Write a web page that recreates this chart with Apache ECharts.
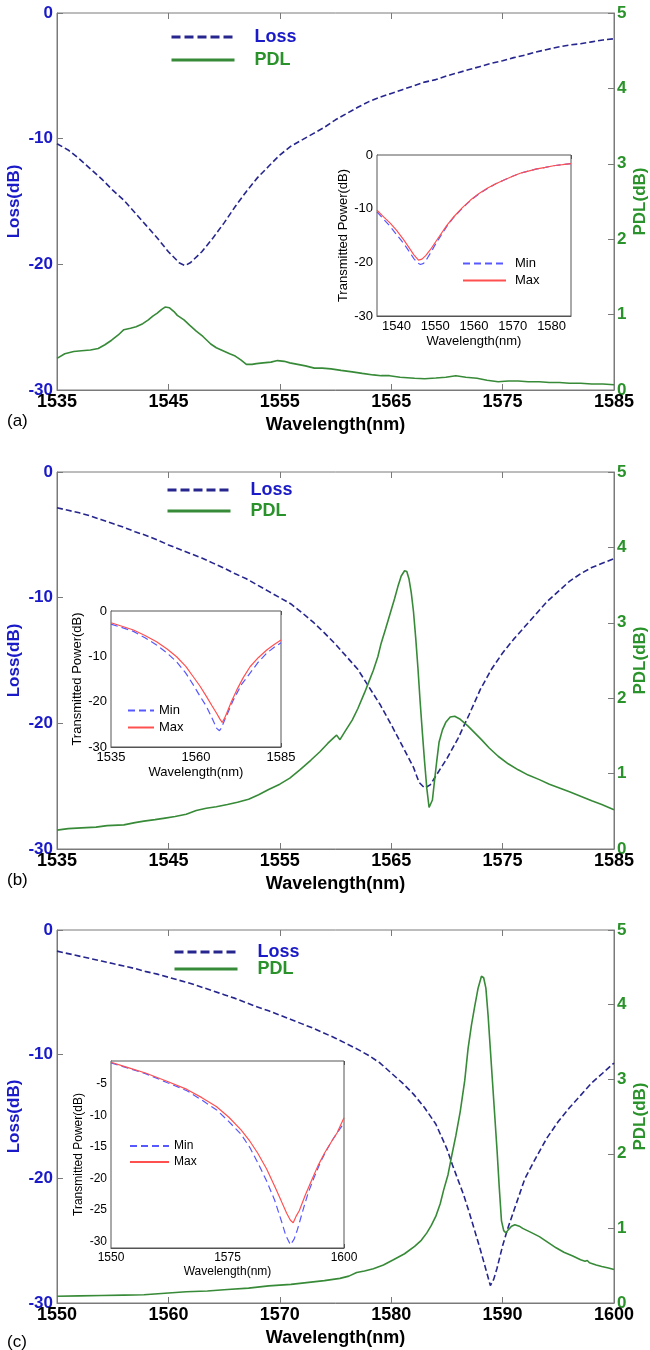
<!DOCTYPE html>
<html><head><meta charset="utf-8">
<script src="https://cdn.jsdelivr.net/npm/echarts@6/dist/echarts.min.js"></script>
<style>html,body{margin:0;padding:0;background:#fff}#c{width:650px;height:1350px}</style>
</head><body><div id="c"></div>
<script>
// ---------------- Panel (a) ----------------
const aLossWl = [1535,1536,1537,1538,1539,1540,1541,1542,1543,1544,1545,1546,1546.5,1547,1548,1549,1550,1551,1552,1553,1554,1555,1556,1557,1558,1559,1560,1561,1562,1563,1564,1565,1566,1567,1568,1569,1570,1571,1572,1573,1574,1575,1576,1577,1578,1579,1580,1581,1582,1583,1584,1585];
const aLossDb = [-10.4,-10.9,-11.6,-12.4,-13.2,-14.1,-14.9,-15.9,-16.9,-17.9,-19.0,-19.9,-20.1,-19.85,-19.0,-17.9,-16.7,-15.4,-14.2,-13.1,-12.2,-11.3,-10.6,-10.1,-9.6,-9.1,-8.5,-8.0,-7.5,-7.05,-6.7,-6.4,-6.1,-5.8,-5.5,-5.3,-5.0,-4.75,-4.5,-4.25,-4.0,-3.8,-3.55,-3.35,-3.1,-2.9,-2.7,-2.55,-2.45,-2.3,-2.15,-2.05];
const aPdlWl = [1535,1535.7,1536.5,1537.2,1538,1538.7,1539.3,1539.9,1540.5,1541,1541.6,1542.1,1542.7,1543.2,1543.6,1544,1544.4,1544.7,1545.1,1545.5,1545.8,1546.4,1546.9,1547.5,1548.1,1548.8,1549.3,1549.9,1550.5,1551,1551.5,1552,1552.5,1552.9,1553.5,1554.2,1554.8,1555.4,1555.9,1556.6,1557.3,1558.1,1558.8,1559.6,1560.5,1561.5,1562.4,1563.4,1564.1,1564.85,1565.8,1567.1,1568,1569,1569.9,1570.8,1571.7,1572.7,1573.6,1574.6,1575.5,1576.4,1577.3,1578.3,1579.2,1580.1,1581,1582,1583,1584,1585];
const aPdlDb = [0.42,0.48,0.51,0.52,0.53,0.55,0.60,0.66,0.73,0.80,0.82,0.84,0.88,0.93,0.98,1.02,1.07,1.10,1.09,1.04,0.99,0.93,0.86,0.78,0.71,0.61,0.56,0.52,0.48,0.45,0.40,0.34,0.34,0.35,0.36,0.37,0.39,0.38,0.36,0.34,0.32,0.29,0.29,0.28,0.26,0.24,0.22,0.20,0.19,0.19,0.17,0.155,0.15,0.16,0.17,0.19,0.17,0.155,0.13,0.11,0.12,0.12,0.11,0.11,0.10,0.10,0.09,0.09,0.08,0.08,0.07];
const aInsMaxWl = [1535,1536.5,1538.4,1540,1541.9,1543.3,1544.5,1545.7,1546.6,1547.6,1548.7,1550,1551.3,1553,1554.8,1557,1559.1,1561.2,1563.4,1565.5,1567.6,1569.8,1571.9,1574,1576.2,1578.4,1580.5,1582.8,1585];
const aInsMaxDb = [-10.3,-11.4,-12.7,-14.0,-15.8,-17.3,-18.6,-19.6,-19.4,-18.7,-17.7,-16.3,-14.9,-13.1,-11.5,-9.8,-8.4,-7.2,-6.2,-5.4,-4.7,-4.0,-3.4,-3.0,-2.6,-2.3,-2.0,-1.8,-1.6];
const aInsMinWl = [1535,1536.5,1538.4,1540,1541.9,1543.3,1544.5,1545.4,1546.2,1547,1548,1549,1550,1551.3,1553,1554.8,1557,1559.1,1561.2,1563.4,1565.5,1567.6,1569.8,1571.9,1574,1576.2,1578.4,1580.5,1582.8,1585];
const aInsMinDb = [-10.6,-11.8,-13.3,-14.8,-16.5,-18.0,-19.3,-20.1,-20.4,-20.2,-19.2,-18.0,-16.7,-15.2,-13.3,-11.6,-9.9,-8.5,-7.3,-6.3,-5.4,-4.7,-4.0,-3.4,-3.0,-2.6,-2.3,-2.0,-1.8,-1.6];

// ---------------- Panel (b) ----------------
const bLossWl = [1535,1536,1537,1538,1539,1540,1541,1542,1543,1544,1545,1546,1547,1548,1549,1550,1551,1552,1553,1554,1555,1556,1557,1558,1559,1560,1561,1562,1563,1564,1565,1566,1567,1567.5,1568,1568.5,1569,1570,1571,1572,1573,1574,1575,1576,1577,1578,1579,1580,1581,1582,1583,1584,1585];
const bLossDb = [-2.85,-3.05,-3.25,-3.5,-3.8,-4.1,-4.4,-4.75,-5.05,-5.4,-5.8,-6.15,-6.5,-6.85,-7.25,-7.65,-8.1,-8.5,-9.0,-9.5,-10.0,-10.5,-11.2,-11.95,-12.8,-13.7,-14.7,-15.7,-17.1,-18.5,-20.1,-21.8,-23.5,-24.7,-25.15,-24.9,-24.2,-22.8,-21.2,-19.3,-17.3,-15.7,-14.4,-13.3,-12.3,-11.3,-10.3,-9.5,-8.7,-8.1,-7.6,-7.25,-6.9];
const bPdlWl = [1535,1536,1537.2,1538.5,1539.5,1541,1542,1542.8,1543.8,1544.7,1545.6,1546.6,1547.5,1548.4,1549.3,1550.3,1551.2,1552.2,1553.1,1554,1555,1555.9,1556.8,1557.8,1558.6,1559.3,1559.8,1560.1,1560.4,1560.9,1561.5,1562,1562.6,1563,1563.4,1563.8,1564.1,1564.5,1564.9,1565.3,1565.6,1565.9,1566.2,1566.4,1566.6,1566.8,1567,1567.2,1567.4,1567.6,1567.8,1568,1568.2,1568.4,1568.55,1568.7,1568.9,1569.1,1569.3,1569.6,1569.9,1570.3,1570.7,1571.2,1571.9,1572.5,1573.1,1573.8,1574.6,1575.5,1576.4,1577.3,1578.3,1579.2,1580.1,1581,1582,1583,1583.9,1585];
const bPdlDb = [0.25,0.27,0.28,0.29,0.31,0.32,0.35,0.37,0.39,0.41,0.43,0.46,0.51,0.54,0.56,0.59,0.62,0.66,0.72,0.79,0.86,0.94,1.05,1.18,1.29,1.40,1.47,1.51,1.45,1.57,1.71,1.86,2.07,2.22,2.37,2.55,2.73,2.92,3.12,3.32,3.48,3.62,3.69,3.68,3.58,3.40,3.15,2.80,2.40,1.95,1.54,1.15,0.80,0.55,0.53,0.65,0.92,1.18,1.42,1.58,1.68,1.75,1.76,1.72,1.63,1.54,1.45,1.34,1.23,1.13,1.05,0.98,0.92,0.86,0.81,0.76,0.70,0.64,0.59,0.52];
const bInsMaxWl = [1535,1538,1541.6,1545,1548.4,1551.5,1554.3,1557,1559.2,1561.2,1563.1,1564.7,1566.1,1567,1567.7,1568.3,1569,1570.4,1572,1573.9,1575.9,1578.3,1580.8,1583,1585];
const bInsMaxDb = [-2.6,-3.3,-4.2,-5.4,-6.8,-8.4,-10.1,-12.2,-14.5,-16.6,-18.9,-20.9,-22.6,-23.8,-24.6,-23.8,-22.6,-20.0,-17.4,-14.7,-12.3,-10.3,-8.6,-7.4,-6.4];
const bInsMinWl = [1535,1538,1541.6,1545,1548.4,1551.5,1554.3,1557,1559.2,1561.2,1563.1,1564.7,1566.1,1566.9,1567.5,1568,1569.5,1571,1573.4,1575.9,1578.3,1580.8,1583,1585];
const bInsMinDb = [-2.9,-3.6,-4.5,-5.9,-7.5,-9.3,-11.2,-13.7,-16.3,-18.8,-21.1,-23.6,-25.9,-26.4,-25.8,-24.8,-22.2,-19.6,-16.2,-13.7,-11.3,-9.3,-8.0,-7.0];

// ---------------- Panel (c) ----------------
const cLossWl = [1550,1551,1552,1553,1554,1555,1556,1557,1558,1559,1560,1561,1562,1563,1564,1565,1566,1567,1568,1569,1570,1571,1572,1573,1574,1575,1576,1577,1578,1579,1580,1581,1582,1583,1584,1585,1585.5,1586,1586.5,1587,1587.5,1588,1588.5,1588.9,1589.2,1589.5,1590,1590.5,1591,1592,1593,1594,1595,1596,1597,1598,1599,1600];
const cLossDb = [-1.7,-1.9,-2.1,-2.3,-2.5,-2.7,-2.9,-3.1,-3.35,-3.55,-3.8,-4.05,-4.3,-4.6,-4.9,-5.2,-5.5,-5.85,-6.2,-6.5,-6.85,-7.2,-7.55,-7.9,-8.3,-8.7,-9.15,-9.6,-10.1,-10.7,-11.5,-12.3,-13.2,-14.3,-15.6,-17.6,-18.9,-20.1,-21.3,-22.7,-24.2,-25.7,-27.3,-28.6,-28.1,-27.2,-25.4,-23.9,-22.6,-20.0,-18.3,-16.7,-15.4,-14.3,-13.3,-12.3,-11.5,-10.7];
const cPdlWl = [1550,1552,1554,1556,1557.8,1559.7,1561.6,1563.5,1565.3,1567.2,1569,1571,1572.8,1574,1575.4,1576.2,1576.9,1577.6,1578.4,1579.3,1580.2,1581.2,1582.1,1582.7,1583.2,1583.6,1584,1584.4,1584.7,1585.1,1585.4,1585.8,1586.2,1586.6,1586.9,1587.2,1587.5,1587.8,1588.1,1588.3,1588.5,1588.7,1588.9,1589.1,1589.3,1589.5,1589.7,1589.9,1590.1,1590.3,1590.5,1590.8,1591.1,1591.5,1591.8,1592.5,1593.3,1594,1594.8,1595.5,1596.3,1597,1597.4,1597.6,1597.8,1598.4,1598.9,1599.5,1600];
const cPdlDb = [0.09,0.095,0.10,0.105,0.11,0.13,0.15,0.16,0.18,0.20,0.23,0.25,0.28,0.30,0.33,0.36,0.41,0.43,0.46,0.51,0.58,0.66,0.76,0.84,0.94,1.04,1.16,1.33,1.51,1.72,1.95,2.24,2.57,2.98,3.41,3.72,3.98,4.22,4.38,4.36,4.22,3.85,3.40,2.95,2.50,2.05,1.55,1.10,0.97,0.94,0.98,1.03,1.05,1.03,1.00,0.95,0.89,0.82,0.74,0.68,0.63,0.58,0.56,0.57,0.54,0.51,0.49,0.47,0.45];
const cInsMaxWl = [1550,1553.5,1557.4,1562,1566.3,1569.5,1572.6,1575.3,1577.9,1579.8,1581.5,1583.4,1585.1,1586.5,1587.7,1588.5,1589.1,1589.7,1590.4,1591.7,1593.1,1594.4,1595.8,1597.2,1598.5,1600];
const cInsMaxDb = [-1.6,-2.4,-3.3,-4.6,-5.9,-7.2,-8.6,-10.3,-12.3,-14.1,-16.0,-18.5,-21.2,-23.5,-25.5,-26.6,-27.0,-26.0,-25.1,-22.6,-20.2,-18.0,-16.0,-14.3,-12.8,-10.4];
const cInsMinWl = [1550,1553.5,1557.4,1562,1566.3,1569.5,1572.6,1575.3,1577.9,1579.8,1581.5,1583.4,1585.1,1586.6,1587.5,1588.5,1589.3,1590,1591.2,1592.3,1593.6,1594.9,1596.2,1597.5,1598.8,1600];
const cInsMinDb = [-1.7,-2.5,-3.4,-4.8,-6.1,-7.6,-9.1,-11.0,-13.0,-15.1,-17.5,-20.4,-23.4,-26.8,-29.0,-30.5,-29.6,-28.1,-25.0,-22.3,-19.8,-17.5,-15.6,-13.9,-12.5,-11.2];

// ---------------- Text ----------------
const panelTags = ['(a)', '(b)', '(c)'];
const xTitle = 'Wavelength(nm)';
const lossTitle = 'Loss(dB)';
const pdlTitle = 'PDL(dB)';
const insetYTitle = 'Transmitted Power(dB)';

// ---------------- Styling ----------------
const FONT = '"Liberation Sans", Arial, sans-serif';
const LOSS_COLOR = '#26268e';
const BLUE_TXT = '#1a1ac8';
const PDL_COLOR = '#378a37';
const GREEN_TXT = '#2a922a';
const MIN_COLOR = '#5858ff';
const MAX_COLOR = '#ff5050';
const AXIS_GRAY = '#7a7a7a';

const grids = [], xAxes = [], yAxes = [], series = [], legends = [];
const pairs = (x, y) => x.map((v, i) => [v, y[i]]);

function addMain(p) {
  const gi = grids.length;
  grids.push({left: 57, width: 557, top: p.top, height: p.height, show: true, outerBoundsMode: 'none',
    containLabel: false, borderColor: AXIS_GRAY, borderWidth: 1, backgroundColor: 'transparent'});
  const xb = xAxes.length;
  xAxes.push({type: 'value', gridIndex: gi, position: 'bottom', min: p.xmin, max: p.xmax, interval: 10,
    axisLine: {show: true, onZero: false, lineStyle: {color: AXIS_GRAY}},
    axisTick: {inside: true, length: 6, lineStyle: {color: AXIS_GRAY}},
    splitLine: {show: false},
    axisLabel: {color: '#000', fontWeight: 'bold', fontSize: 18, fontFamily: FONT, margin: 3, formatter: v => String(v)},
    name: xTitle, nameLocation: 'middle', nameGap: 26,
    nameTextStyle: {color: '#000', fontWeight: 'bold', fontSize: 18, fontFamily: FONT}});
  xAxes.push({type: 'value', gridIndex: gi, position: 'top', min: p.xmin, max: p.xmax, interval: 10,
    axisLine: {show: false}, axisTick: {inside: true, length: 6, lineStyle: {color: AXIS_GRAY}},
    axisLabel: {show: false}, splitLine: {show: false}});
  const yl = yAxes.length;
  yAxes.push({type: 'value', gridIndex: gi, position: 'left', min: -30, max: 0, interval: 10,
    axisLine: {show: true, onZero: false, lineStyle: {color: AXIS_GRAY}},
    axisTick: {inside: true, length: 6, lineStyle: {color: AXIS_GRAY}},
    splitLine: {show: false},
    axisLabel: {color: BLUE_TXT, fontWeight: 'bold', fontSize: 17, fontFamily: FONT, margin: 4},
    name: lossTitle, nameLocation: 'middle', nameRotate: 90, nameGap: 34, nameMoveOverlap: false,
    nameTextStyle: {color: BLUE_TXT, fontWeight: 'bold', fontSize: 17, fontFamily: FONT}});
  yAxes.push({type: 'value', gridIndex: gi, position: 'right', min: 0, max: 5, interval: 1,
    axisLine: {show: true, onZero: false, lineStyle: {color: AXIS_GRAY}},
    axisTick: {inside: true, length: 6, lineStyle: {color: AXIS_GRAY}},
    splitLine: {show: false},
    axisLabel: {color: GREEN_TXT, fontWeight: 'bold', fontSize: 17, fontFamily: FONT, margin: 3},
    name: pdlTitle, nameLocation: 'middle', nameRotate: 90, nameGap: 18, nameMoveOverlap: false,
    nameTextStyle: {color: GREEN_TXT, fontWeight: 'bold', fontSize: 17, fontFamily: FONT}});
  series.push({name: 'Loss', type: 'line', xAxisIndex: xb, yAxisIndex: yl, data: pairs(p.lossWl, p.lossDb),
    symbol: 'none', z: 3, lineStyle: {color: LOSS_COLOR, width: 1.6, type: [6, 3]}, itemStyle: {color: LOSS_COLOR}});
  series.push({name: 'PDL', type: 'line', xAxisIndex: xb, yAxisIndex: yl + 1, data: pairs(p.pdlWl, p.pdlDb),
    symbol: 'none', z: 3, lineStyle: {color: PDL_COLOR, width: 1.6}, itemStyle: {color: PDL_COLOR}});
  legends.push({left: p.legLeft, top: p.legTop, orient: 'vertical', itemWidth: 63, itemHeight: 14,
    itemGap: p.legGap, selectedMode: false, padding: 0, itemStyle: {opacity: 0},
    textStyle: {fontSize: 18, fontWeight: 'bold', fontFamily: FONT, lineHeight: 18, padding: [0, 0, 0, 15]},
    data: [{name: 'Loss', textStyle: {color: BLUE_TXT}, itemStyle: {opacity: 0}, lineStyle: {width: 3, type: [9, 4]}},
           {name: 'PDL', textStyle: {color: GREEN_TXT}, itemStyle: {opacity: 0}, lineStyle: {width: 3}}]});
}

function addInset(p) {
  const gi = grids.length;
  grids.push({left: p.left, width: p.width, top: p.top, height: p.height, show: true, outerBoundsMode: 'none',
    containLabel: false, borderColor: '#555', borderWidth: 1, backgroundColor: '#fff', z: 5});
  const tickStyle = {inside: true, length: 4, lineStyle: {color: '#555'}};
  const lbl = {color: '#000', fontSize: p.fs, fontFamily: FONT};
  const xb = xAxes.length;
  const xCommon = {min: p.xmin, max: p.xmax, splitLine: {show: false}};
  if (p.xInterval) xCommon.interval = p.xInterval; else xCommon.splitNumber = p.xSplit;
  xAxes.push(Object.assign({type: 'value', gridIndex: gi, position: 'bottom',
    axisLine: {show: true, onZero: false, lineStyle: {color: '#555'}}, axisTick: tickStyle,
    axisLabel: Object.assign({margin: 4, showMinLabel: !!p.xInterval, showMaxLabel: !!p.xInterval,
      formatter: v => (v % p.xStep === 0 ? String(v) : '')}, lbl),
    name: xTitle, nameLocation: 'middle', nameGap: p.xNameGap,
    nameTextStyle: {color: '#000', fontSize: p.fs, fontFamily: FONT}}, xCommon));
  xAxes.push(Object.assign({type: 'value', gridIndex: gi, position: 'top',
    axisLine: {show: false}, axisTick: tickStyle, axisLabel: {show: false}}, xCommon));
  const yl = yAxes.length;
  const yCommon = {min: p.ymin, max: p.ymax, splitLine: {show: false}};
  if (p.yInterval) yCommon.interval = p.yInterval; else yCommon.splitNumber = p.ySplit;
  yAxes.push(Object.assign({type: 'value', gridIndex: gi, position: 'left',
    axisLine: {show: true, onZero: false, lineStyle: {color: '#555'}}, axisTick: tickStyle,
    axisLabel: Object.assign({margin: 4, formatter: v => (v % p.yStep === 0 ? String(v) : '')}, lbl),
    name: insetYTitle, nameLocation: 'middle', nameRotate: 90, nameGap: p.yNameGap,
    nameTextStyle: {color: '#000', fontSize: p.fs, fontFamily: FONT}}, yCommon));
  yAxes.push(Object.assign({type: 'value', gridIndex: gi, position: 'right',
    axisLine: {show: false}, axisTick: tickStyle, axisLabel: {show: false}}, yCommon));
  series.push({name: 'Min', type: 'line', xAxisIndex: xb, yAxisIndex: yl, data: pairs(p.minWl, p.minDb),
    symbol: 'none', z: 6, lineStyle: {color: MIN_COLOR, width: 1.2, type: [7, 4]}, itemStyle: {color: MIN_COLOR}});
  series.push({name: 'Max', type: 'line', xAxisIndex: xb, yAxisIndex: yl, data: pairs(p.maxWl, p.maxDb),
    symbol: 'none', z: 6, lineStyle: {color: MAX_COLOR, width: 1.2}, itemStyle: {color: MAX_COLOR}});
  legends.push({left: p.legLeft, top: p.legTop, orient: 'vertical', itemWidth: p.legW, itemHeight: 10,
    itemGap: p.legGap, selectedMode: false, z: 8, padding: 0, itemStyle: {opacity: 0},
    textStyle: {fontSize: p.fs, fontFamily: FONT, color: '#000', lineHeight: p.fs, padding: [0, 0, 0, p.legPad]},
    data: [{name: 'Min', itemStyle: {opacity: 0}}, {name: 'Max', itemStyle: {opacity: 0}}]});
}

addMain({top: 13, height: 377, xmin: 1535, xmax: 1585, lossWl: aLossWl, lossDb: aLossDb, pdlWl: aPdlWl, pdlDb: aPdlDb,
  legLeft: 170, legTop: 28, legGap: 5});
addMain({top: 472, height: 377, xmin: 1535, xmax: 1585, lossWl: bLossWl, lossDb: bLossDb, pdlWl: bPdlWl, pdlDb: bPdlDb,
  legLeft: 166, legTop: 481, legGap: 3});
addMain({top: 930, height: 373, xmin: 1550, xmax: 1600, lossWl: cLossWl, lossDb: cLossDb, pdlWl: cPdlWl, pdlDb: cPdlDb,
  legLeft: 173, legTop: 943, legGap: -1});

addInset({left: 377, top: 155, width: 194, height: 161, fs: 13, xmin: 1535, xmax: 1585, xSplit: 5, xStep: 10,
  ymin: -30, ymax: 0, yInterval: 10, yStep: 10, xNameGap: 19, yNameGap: 26,
  minWl: aInsMinWl, minDb: aInsMinDb, maxWl: aInsMaxWl, maxDb: aInsMaxDb,
  legLeft: 462, legTop: 257, legGap: 4, legW: 43, legPad: 4});
addInset({left: 111, top: 611, width: 170, height: 136, fs: 13, xmin: 1535, xmax: 1585, xInterval: 25, xStep: 5,
  ymin: -30, ymax: 0, yInterval: 10, yStep: 10, xNameGap: 19, yNameGap: 26,
  minWl: bInsMinWl, minDb: bInsMinDb, maxWl: bInsMaxWl, maxDb: bInsMaxDb,
  legLeft: 127, legTop: 704, legGap: 4, legW: 26, legPad: 0});
addInset({left: 111, top: 1061, width: 233, height: 187, fs: 12, xmin: 1550, xmax: 1600, xInterval: 25, xStep: 5,
  ymin: -31, ymax: -1.4, ySplit: 6, yStep: 5, xNameGap: 18, yNameGap: 26,
  minWl: cInsMinWl, minDb: cInsMinDb, maxWl: cInsMaxWl, maxDb: cInsMaxDb,
  legLeft: 129, legTop: 1140, legGap: 4, legW: 39, legPad: 0});

const tagTops = [413, 872, 1334];
const graphics = panelTags.map((t, i) => ({type: 'text', left: 7, top: tagTops[i],
  style: {text: t, font: '17px "Liberation Sans", Arial, sans-serif', fill: '#000'}}));

const chart = echarts.init(document.getElementById('c'), null, {renderer: 'canvas'});
chart.setOption({
  animation: false,
  backgroundColor: '#fff',
  grid: grids, xAxis: xAxes, yAxis: yAxes, series: series, legend: legends,
  graphic: graphics
});
</script>
</body></html>
